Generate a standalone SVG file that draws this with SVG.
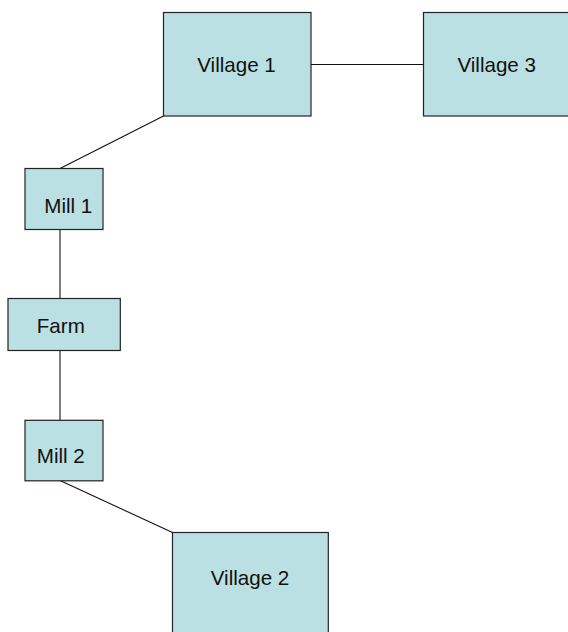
<svg xmlns="http://www.w3.org/2000/svg" width="568" height="632" viewBox="0 0 568 632">
  <style>
    .box { fill: #BBE0E3; stroke: #222; stroke-width: 1.2; }
    .lbl { font-family: "Liberation Sans", Arial, sans-serif; font-size: 20.6px; fill: #111; text-anchor: middle; }
    .link { stroke: #111; stroke-width: 1.1; fill: none; }
  </style>
  <rect width="568" height="632" fill="#fff"/>

  <!-- connectors -->
  <g id="connectors">
    <line class="link" x1="311" y1="64.5" x2="423.5" y2="64.5"/>
    <line class="link" x1="60" y1="168.5" x2="163.5" y2="116"/>
    <line class="link" x1="60" y1="229.5" x2="60" y2="298.5"/>
    <line class="link" x1="60" y1="350.5" x2="60" y2="420.5"/>
    <line class="link" x1="60" y1="480.5" x2="172.5" y2="532.5"/>
  </g>

  <!-- nodes -->
  <g id="village1">
    <rect class="box" x="163.5" y="12.5" width="147.5" height="103.5"/>
    <text class="lbl" x="236.5" y="72.3">Village 1</text>
  </g>
  <g id="village3">
    <rect class="box" x="423.5" y="12.5" width="148" height="103.5"/>
    <text class="lbl" x="496.7" y="72.3">Village 3</text>
  </g>
  <g id="mill1">
    <rect class="box" x="25" y="168.5" width="78" height="61"/>
    <text class="lbl" x="68.3" y="212.7">Mill 1</text>
  </g>
  <g id="farm">
    <rect class="box" x="8" y="298.5" width="112.3" height="52"/>
    <text class="lbl" x="60.8" y="332.7">Farm</text>
  </g>
  <g id="mill2">
    <rect class="box" x="25" y="420.3" width="78" height="60.5"/>
    <text class="lbl" x="60.8" y="463">Mill 2</text>
  </g>
  <g id="village2">
    <rect class="box" x="172.5" y="532.5" width="155.8" height="104"/>
    <text class="lbl" x="250" y="585">Village 2</text>
  </g>
</svg>
